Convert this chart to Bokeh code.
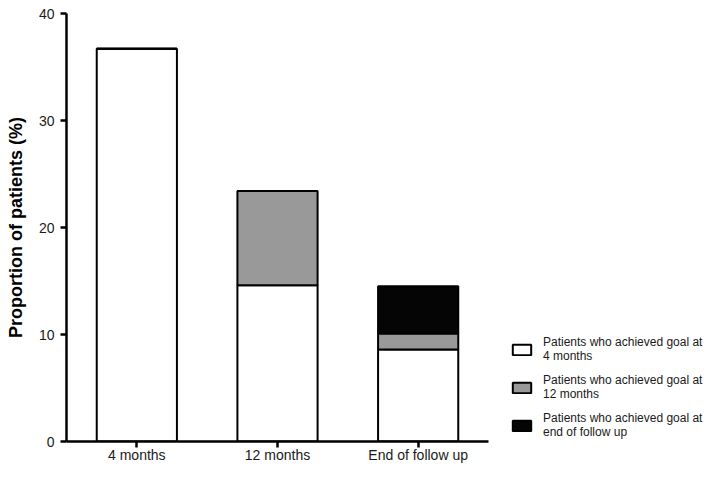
from bokeh.plotting import figure
from bokeh.models import ColumnDataSource, Legend, LegendItem, FactorRange
from bokeh.embed import file_html
from bokeh.resources import INLINE

categories = ["4 months", "12 months", "End of follow up"]
goal_4m = [36.7, 14.6, 8.6]
goal_12m = [0.0, 8.8, 1.5]
goal_end = [0.0, 0.0, 4.4]
series_names = ["goal_4m", "goal_12m", "goal_end"]
legend_labels = [
    "Patients who achieved goal at\n4 months",
    "Patients who achieved goal at\n12 months",
    "Patients who achieved goal at\nend of follow up",
]
colors = ["#ffffff", "#999999", "#050505"]
y_ticks = [0, 10, 20, 30, 40]

source = ColumnDataSource(dict(cat=categories, goal_4m=goal_4m, goal_12m=goal_12m, goal_end=goal_end))

FONT = "Liberation Sans"

p = figure(
    x_range=FactorRange(*categories, range_padding=0),
    y_range=(0, 40),
    frame_width=422, frame_height=428,
    output_backend="svg", toolbar_location=None,
    min_border_left=66, min_border_right=215, min_border_top=13, min_border_bottom=30,
)
p.x_range.factor_padding = 0

renderers = p.vbar_stack(series_names, x="cat", width=0.57, source=source,
                         fill_color=colors, line_color="black", line_width=2)

p.outline_line_color = None
p.xgrid.grid_line_color = None
p.ygrid.grid_line_color = None
p.background_fill_color = "white"

p.yaxis.ticker = y_ticks
p.yaxis.minor_tick_line_color = None
p.yaxis.major_tick_in = 0
p.yaxis.major_tick_out = 6
p.yaxis.axis_line_width = 2.5
p.yaxis.major_tick_line_width = 2.5
p.yaxis.major_label_standoff = 6
p.yaxis.major_label_text_font = FONT
p.yaxis.major_label_text_font_size = "14px"
p.yaxis.major_label_text_color = "#1a1a1a"
p.yaxis.axis_label = "Proportion of patients (%)"
p.yaxis.axis_label_text_font = FONT
p.yaxis.axis_label_text_font_size = "18px"
p.yaxis.axis_label_text_font_style = "bold"
p.yaxis.axis_label_text_color = "black"
p.yaxis.axis_label_standoff = 10

p.xaxis.major_tick_in = 0
p.xaxis.major_tick_out = 6
p.xaxis.axis_line_width = 2.5
p.xaxis.major_tick_line_width = 2.5
p.xaxis.major_label_standoff = -1
p.xaxis.major_label_text_font = FONT
p.xaxis.major_label_text_font_size = "14px"
p.xaxis.major_label_text_color = "#1a1a1a"
p.xaxis.minor_tick_line_color = None

items = [LegendItem(label=lab, renderers=[r]) for lab, r in zip(legend_labels, renderers)]
legend = Legend(items=items, location=(22, 2), orientation="vertical",
                glyph_width=23, glyph_height=13, label_standoff=10,
                label_text_font=FONT, label_text_font_size="12px", label_text_color="#1a1a1a",
                label_text_line_height=1.2,
                spacing=10, padding=0, margin=0, border_line_color=None,
                background_fill_alpha=0)
p.add_layout(legend, "right")

open("out.html", "w").write(file_html(p, INLINE))
